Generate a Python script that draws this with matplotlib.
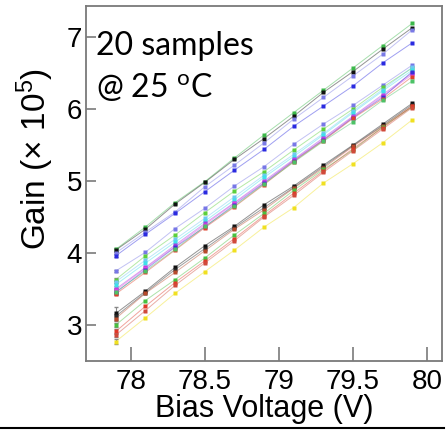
import matplotlib
matplotlib.use("Agg")
import matplotlib.pyplot as plt
from matplotlib.lines import Line2D

plt.rcParams['font.family'] = ['Liberation Sans', 'DejaVu Sans']
plt.rcParams['mathtext.fontset'] = 'custom'
plt.rcParams['mathtext.rm'] = 'Liberation Sans'

bias_v = [77.9, 78.1, 78.3, 78.5, 78.7, 78.9, 79.1, 79.3, 79.5, 79.7, 79.9]

gain_s01 = [4.05, 4.36, 4.70, 4.99, 5.32, 5.64, 5.95, 6.26, 6.57, 6.88, 7.19]
gain_s02 = [4.04, 4.33, 4.68, 4.98, 5.30, 5.59, 5.90, 6.23, 6.52, 6.83, 7.13]
gain_s03 = [4.00, 4.29, 4.57, 4.92, 5.22, 5.53, 5.86, 6.16, 6.46, 6.76, 7.10]
gain_s04 = [3.96, 4.26, 4.55, 4.85, 5.15, 5.44, 5.76, 6.04, 6.32, 6.64, 6.92]
gain_s05 = [3.75, 4.01, 4.34, 4.62, 4.93, 5.20, 5.51, 5.79, 6.05, 6.33, 6.61]
gain_s06 = [3.63, 3.96, 4.25, 4.56, 4.86, 5.13, 5.43, 5.72, 6.00, 6.30, 6.57]
gain_s07 = [3.60, 3.90, 4.19, 4.48, 4.78, 5.08, 5.37, 5.66, 5.97, 6.27, 6.58]
gain_s08 = [3.56, 3.86, 4.15, 4.44, 4.74, 5.05, 5.34, 5.64, 5.95, 6.25, 6.54]
gain_s09 = [3.50, 3.80, 4.11, 4.41, 4.70, 5.00, 5.30, 5.60, 5.90, 6.20, 6.50]
gain_s10 = [3.48, 3.79, 4.09, 4.39, 4.69, 4.98, 5.29, 5.58, 5.89, 6.18, 6.48]
gain_s11 = [3.45, 3.77, 4.08, 4.36, 4.67, 4.97, 5.28, 5.57, 5.88, 6.16, 6.52]
gain_s12 = [3.43, 3.73, 4.04, 4.35, 4.64, 4.95, 5.27, 5.56, 5.87, 6.14, 6.45]
gain_s13 = [3.46, 3.75, 4.05, 4.37, 4.65, 4.96, 5.26, 5.55, 5.82, 6.12, 6.39]
gain_s14 = [3.16, 3.47, 3.80, 4.10, 4.37, 4.67, 4.93, 5.22, 5.50, 5.79, 6.08]
gain_s15 = [3.12, 3.45, 3.77, 4.06, 4.35, 4.63, 4.91, 5.20, 5.49, 5.77, 6.06]
gain_s16 = [3.09, 3.44, 3.73, 4.03, 4.33, 4.60, 4.90, 5.18, 5.48, 5.76, 6.04]
gain_s17 = [3.00, 3.34, 3.63, 3.93, 4.25, 4.55, 4.87, 5.16, 5.43, 5.75, 6.03]
gain_s18 = [2.91, 3.26, 3.59, 3.89, 4.20, 4.52, 4.83, 5.14, 5.45, 5.74, 6.04]
gain_s19 = [2.86, 3.20, 3.55, 3.86, 4.17, 4.50, 4.80, 5.12, 5.42, 5.72, 6.02]
gain_s20 = [2.77, 3.10, 3.44, 3.74, 4.04, 4.36, 4.63, 4.97, 5.24, 5.53, 5.85]

series = [gain_s01, gain_s02, gain_s03, gain_s04, gain_s05, gain_s06, gain_s07,
          gain_s08, gain_s09, gain_s10, gain_s11, gain_s12, gain_s13, gain_s14,
          gain_s15, gain_s16, gain_s17, gain_s18, gain_s19, gain_s20]

colors = ['#3cb84a', '#111111', '#7a7ae6', '#2a2ae0', '#7777e6', '#5ccf3c',
          '#6fc8f2', '#3fe0ea', '#a040e0', '#e040e0', '#3a30d8', '#e0402a',
          '#4cc266', '#111111', '#2a2a2a', '#b84a2a', '#48c040', '#e03828',
          '#d04a3a', '#f0e020']

first_err = [0.02, 0.02, 0.02, 0.02, 0.02, 0.02, 0.02, 0.02, 0.02, 0.02,
             0.02, 0.02, 0.02, 0.09, 0.03, 0.03, 0.03, 0.03, 0.03, 0.04]

fig = plt.figure(figsize=(4.46, 4.30), dpi=100)
ax = fig.add_axes([0.193, 0.1605, 0.798, 0.8255])

for vals, col, err in zip(series, colors, first_err):
    ax.plot(bias_v, vals, '-', color=col, lw=0.7, alpha=0.45, zorder=2)
    ax.plot(bias_v, vals, 's', color=col, ms=2.8, mec='none', zorder=3)
    ax.errorbar(bias_v[:1], vals[:1], yerr=[err], fmt='none', ecolor='#888888',
                elinewidth=0.8, capsize=1.5, zorder=2)

ax.set_xlim(77.70, 80.10)
ax.set_ylim(2.5, 7.43)
ax.set_xticks([78, 78.5, 79, 79.5, 80])
ax.set_xticklabels(['78', '78.5', '79', '79.5', '80'])
ax.set_yticks([3, 4, 5, 6, 7])

for sp in ax.spines.values():
    sp.set_color('#7a7a7a')
    sp.set_linewidth(1.3)

ax.tick_params(axis='both', direction='in', color='#7a7a7a', width=1.2,
               labelsize=20)
ax.tick_params(axis='x', length=10, pad=6)
ax.tick_params(axis='y', length=7, pad=3)

ax.set_xlabel('Bias Voltage (V)', fontsize=22, labelpad=-1)
ax.set_ylabel(r'Gain (× 10$\mathregular{^5}$)', fontsize=24)
ax.yaxis.set_label_coords(-0.085, 0.57)

ax.text(96 / 446, 1 - 55 / 430, '20 samples', transform=fig.transFigure,
        fontsize=23, family='Lato', va='baseline', ha='left')
ax.text(96 / 446, 1 - 97 / 430, r'@ 25 $\mathregular{^o}$C',
        transform=fig.transFigure, fontsize=23, family='Lato',
        va='baseline', ha='left')

fig.add_artist(Line2D([0.0, 0.995], [0.005, 0.005], transform=fig.transFigure,
                      color='black', lw=1.5))

fig.savefig('out.png', dpi=100)
